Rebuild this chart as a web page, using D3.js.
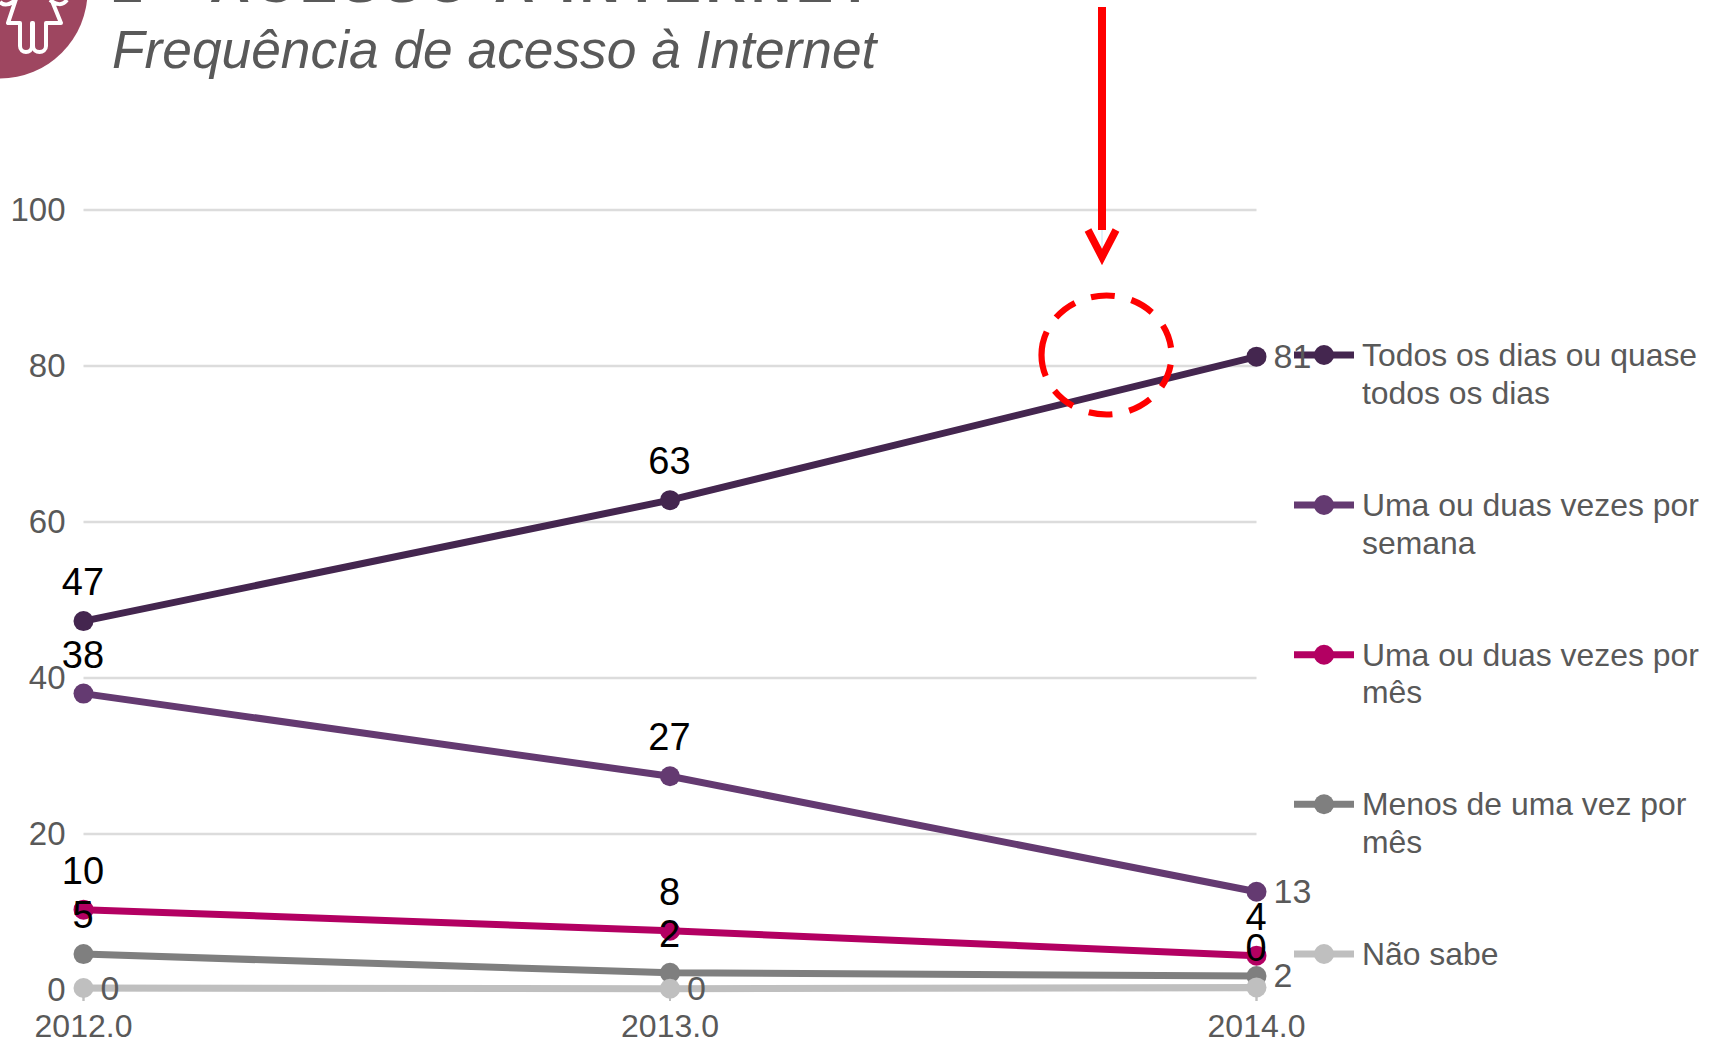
<!DOCTYPE html>
<html lang="pt">
<head>
<meta charset="utf-8">
<title>Frequência de acesso à Internet</title>
<script src="https://cdn.jsdelivr.net/npm/d3@7"></script>
<style>
html,body{margin:0;padding:0;background:#fff;overflow:hidden}
svg{display:block;font-family:"Liberation Sans",Arial,sans-serif}
</style>
</head>
<body>
<div id="chart"></div>
<script>
// ---- data ----
const years = [2012, 2013, 2014];
const yTicks = [0, 20, 40, 60, 80, 100];
const seriesNames = ["Todos os dias ou quase todos os dias", "Uma ou duas vezes por semana", "Uma ou duas vezes por mês", "Menos de uma vez por mês", "Não sabe"];
const legendLines = [["Todos os dias ou quase", "todos os dias"], ["Uma ou duas vezes por", "semana"], ["Uma ou duas vezes por", "mês"], ["Menos de uma vez por", "mês"], ["Não sabe"]];
const todosOsDias = [47.3, 62.8, 81.2];
const porSemana = [38.0, 27.4, 12.6];
const porMes = [10.3, 7.6, 4.4];
const menosDeUma = [4.6, 2.2, 1.8];
const naoSabe = [0.25, 0.17, 0.33];
const seriesValues = [todosOsDias, porSemana, porMes, menosDeUma, naoSabe];

// ---- styles ----
const colors = ["#44264f", "#643a71", "#b30062", "#7f7f7f", "#bfbfbf"];
const labelSides = [["top","top","right"],["top","top","right"],["top","top","top"],["top","top","right"],["right","right","top"]];
const legendY = [355, 505, 654.7, 804.3, 954];
const W = 1719, H = 1043;

const svg = d3.select("#chart").append("svg").attr("width", W).attr("height", H);
const x = d3.scaleLinear().domain([2012, 2014]).range([83.5, 1256.5]);
const y = d3.scaleLinear().domain([0, 100]).range([990, 210]);

// header icon
const icon = svg.append("g");
icon.append("circle").attr("cx", 0).attr("cy", -9).attr("r", 87.5).attr("fill", "#9e4660");
icon.append("path")
  .attr("d", "M0,2 C4,6 10,5 15,0 M67,0 C63,6 56,5 50,0 M17,-4 L8,23 L20,23 L20,46 C20,54 32,54 32,46 L32,23 L33,23 L33,46 C33,54 46,54 46,46 L46,23 L61,23 L50,-4")
  .attr("fill", "none").attr("stroke", "#fff").attr("stroke-width", 4).attr("stroke-linejoin", "round");

// titles
svg.append("text").attr("x", 112).attr("y", 1.5).attr("font-size", 56).attr("font-weight", 700)
  .attr("fill", "#595959").attr("textLength", 760).text("2 - ACESSO À INTERNET");
svg.append("text").attr("x", 112).attr("y", 67.5).attr("font-size", 53.3).attr("font-style", "italic")
  .attr("fill", "#595959").text("Frequência de acesso à Internet");

// y axis + gridlines
const yAxis = svg.append("g").attr("transform", "translate(83.5,0)")
  .call(d3.axisLeft(y).tickValues(yTicks).tickSize(0).tickPadding(18).offset(0));
yAxis.select(".domain").remove();
yAxis.selectAll("text").attr("font-size", 33).attr("font-family", "Liberation Sans").attr("fill", "#595959");
yAxis.selectAll("line").attr("x2", x(2014) - x(2012)).attr("stroke", "#dcdcdc").attr("stroke-width", 2.4);

// x axis
const xAxis = svg.append("g").attr("transform", "translate(0,990)")
  .call(d3.axisBottom(x).tickValues(years).tickFormat(d3.format(".1f")).tickSize(11).tickPadding(13).offset(0));
xAxis.select(".domain").attr("stroke", "#dcdcdc").attr("stroke-width", 2.4);
xAxis.selectAll("text").attr("font-size", 32).attr("font-family", "Liberation Sans").attr("fill", "#595959");
xAxis.selectAll("line").attr("stroke", "#bfbfbf").attr("stroke-width", 2);

// series
const line = d3.line().x((d, i) => x(years[i])).y(d => y(d));
const groups = svg.selectAll("g.series").data(seriesValues).join("g").attr("class", "series");
groups.append("path").attr("d", d => line(d)).attr("fill", "none")
  .attr("stroke", (d, i) => colors[i]).attr("stroke-width", 7);
groups.each(function (vals, s) {
  d3.select(this).selectAll("circle").data(vals).join("circle")
    .attr("cx", (d, i) => x(years[i])).attr("cy", d => y(d)).attr("r", 10).attr("fill", colors[s]);
});

// legend
const legend = svg.selectAll("g.legend").data(seriesNames).join("g").attr("class", "legend")
  .attr("transform", (d, i) => `translate(1294,${legendY[i]})`);
legend.append("line").attr("x1", 0).attr("x2", 60).attr("stroke", (d, i) => colors[i]).attr("stroke-width", 7);
legend.append("circle").attr("cx", 30).attr("r", 10).attr("fill", (d, i) => colors[i]);
legend.each(function (d, i) {
  d3.select(this).selectAll("text").data(legendLines[i]).join("text")
    .attr("x", 68).attr("y", (l, k) => 11 + k * 37.7)
    .attr("font-size", 31.9).attr("fill", "#595959").text(l => l);
});

// data labels
seriesValues.forEach((vals, s) => {
  vals.forEach((v, i) => {
    const side = labelSides[s][i];
    const top = side === "top";
    svg.append("text")
      .attr("x", top ? x(years[i]) - 0.5 : x(years[i]) + 17)
      .attr("y", top ? y(v) - 26 : y(v) + 11.5)
      .attr("text-anchor", top ? "middle" : "start")
      .attr("font-size", top ? 38 : 34)
      .attr("fill", top ? "#000" : "#595959")
      .text(d3.format(".0f")(v));
  });
});

// annotation: red arrow and dashed ellipse
const note = svg.append("g").attr("fill", "none").attr("stroke", "#ff0000");
note.append("line").attr("x1", 1102).attr("x2", 1102).attr("y1", 7).attr("y2", 230).attr("stroke-width", 8);
note.append("line").attr("x1", 1102).attr("x2", 1102).attr("y1", 230).attr("y2", 250).attr("stroke", "#bfe8f5").attr("stroke-width", 1);
note.append("path").attr("d", "M1088,230 L1102,257 L1116,230").attr("stroke-width", 7.5).attr("stroke-linejoin", "miter");
note.append("ellipse").attr("cx", 1106.5).attr("cy", 355).attr("rx", 65).attr("ry", 59.5)
  .attr("stroke-width", 6.2).attr("stroke-dasharray", "24 17")
  .attr("transform", "rotate(180 1106.5 355)");
</script>
</body>
</html>
